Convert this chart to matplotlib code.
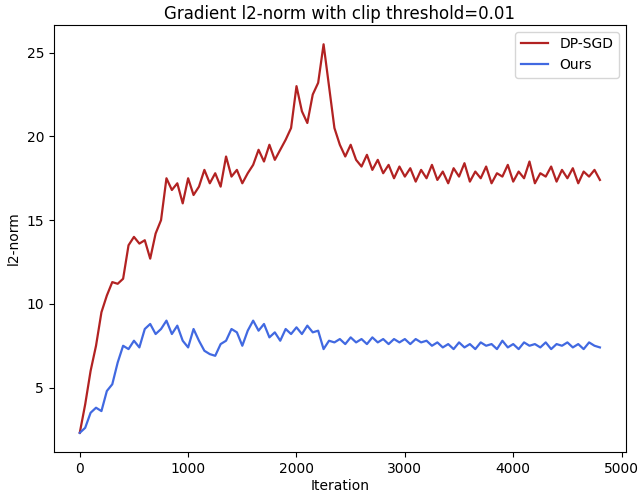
import matplotlib
matplotlib.use("Agg")
import matplotlib.pyplot as plt
import numpy as np

# values, one sample every 50 iterations (0..4800)
iterations = np.arange(0, 4801, 50)

dp_sgd = [
    2.3, 4.0, 6.0, 7.5, 9.5, 10.5, 11.3, 11.2, 11.5, 13.5,
    14.0, 13.6, 13.8, 12.7, 14.2, 15.0, 17.5, 16.8, 17.2, 16.0,
    17.5, 16.5, 17.0, 18.0, 17.2, 17.8, 17.0, 18.8, 17.6, 18.0,
    17.2, 17.8, 18.3, 19.2, 18.5, 19.5, 18.6, 19.2, 19.8, 20.5,
    23.0, 21.5, 20.8, 22.5, 23.2, 25.5, 23.0, 20.5, 19.5, 18.8,
    19.5, 18.6, 18.2, 18.9, 18.0, 18.6, 17.8, 18.3, 17.5, 18.2,
    17.6, 18.1, 17.3, 18.0, 17.5, 18.3, 17.4, 17.9, 17.2, 18.1,
    17.6, 18.4, 17.3, 17.9, 17.5, 18.2, 17.2, 17.8, 17.6, 18.3,
    17.3, 17.9, 17.5, 18.5, 17.2, 17.8, 17.6, 18.2, 17.3, 18.0,
    17.5, 18.1, 17.2, 17.9, 17.6, 18.0, 17.4,
]

ours = [
    2.3, 2.6, 3.5, 3.8, 3.6, 4.8, 5.2, 6.5, 7.5, 7.3,
    7.8, 7.4, 8.5, 8.8, 8.2, 8.5, 9.0, 8.2, 8.7, 7.8,
    7.4, 8.5, 7.8, 7.2, 7.0, 6.9, 7.6, 7.8, 8.5, 8.3,
    7.5, 8.4, 9.0, 8.4, 8.8, 8.0, 8.3, 7.8, 8.5, 8.2,
    8.6, 8.2, 8.7, 8.3, 8.4, 7.3, 7.8, 7.7, 7.9, 7.6,
    8.0, 7.7, 7.9, 7.6, 8.0, 7.7, 7.9, 7.6, 7.9, 7.7,
    7.9, 7.6, 7.9, 7.7, 7.8, 7.5, 7.7, 7.4, 7.6, 7.3,
    7.7, 7.4, 7.6, 7.3, 7.7, 7.5, 7.6, 7.3, 7.8, 7.4,
    7.6, 7.3, 7.7, 7.5, 7.6, 7.4, 7.7, 7.3, 7.6, 7.5,
    7.7, 7.4, 7.6, 7.3, 7.7, 7.5, 7.4,
]

fig = plt.figure(figsize=(6.4, 4.97), dpi=100)
ax = fig.add_axes([0.084, 0.09, 0.894, 0.86])

ax.plot(iterations, dp_sgd, color="#b22222", lw=1.6, label="DP-SGD")
ax.plot(iterations, ours, color="#4169e1", lw=1.6, label="Ours")

ax.set_xticks([0, 1000, 2000, 3000, 4000, 5000])
ax.set_yticks([5, 10, 15, 20, 25])
ax.set_xlabel("Iteration", labelpad=2)
ax.set_ylabel("l2-norm")
ax.set_title("Gradient l2-norm with clip threshold=0.01", pad=4)
ax.legend(loc="upper right")

fig.savefig("out.png", dpi=100)
